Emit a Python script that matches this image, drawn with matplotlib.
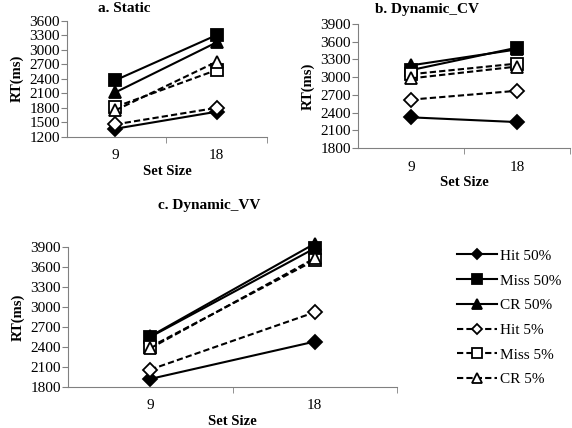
import matplotlib
matplotlib.use("Agg")
import matplotlib.pyplot as plt

plt.rcParams['font.family'] = ['Liberation Serif', 'DejaVu Serif']

set_sizes = ["9", "18"]
series_names = ["Hit 50%", "Miss 50%", "CR 50%", "Hit 5%", "Miss 5%", "CR 5%"]

# RT values (ms) for set size 9 and 18
static_rt = {
    "Hit 50%": [1370, 1720],
    "Miss 50%": [2370, 3300],
    "CR 50%": [2120, 3150],
    "Hit 5%": [1460, 1800],
    "Miss 5%": [1820, 2580],
    "CR 5%": [1750, 2750],
}
dyn_cv_rt = {
    "Hit 50%": [2320, 2240],
    "Miss 50%": [3120, 3500],
    "CR 50%": [3200, 3470],
    "Hit 5%": [2620, 2770],
    "Miss 5%": [3050, 3230],
    "CR 5%": [2980, 3180],
}
dyn_vv_rt = {
    "Hit 50%": [1920, 2480],
    "Miss 50%": [2550, 3880],
    "CR 50%": [2560, 3950],
    "Hit 5%": [2060, 2920],
    "Miss 5%": [2400, 3700],
    "CR 5%": [2380, 3730],
}

styles = {
    "Hit 50%": dict(ls='-', marker='D', mfc='black', ms=7),
    "Miss 50%": dict(ls='-', marker='s', mfc='black', ms=9),
    "CR 50%": dict(ls='-', marker='^', mfc='black', ms=9),
    "Hit 5%": dict(ls='--', marker='D', mfc='white', ms=7),
    "Miss 5%": dict(ls='--', marker='s', mfc='white', ms=9),
    "CR 5%": dict(ls='--', marker='^', mfc='white', ms=9),
}


def draw_panel(ax, data, ylim, yticks, xlim):
    x = [1, 2]
    for name in series_names:
        st = styles[name]
        ax.plot(x, data[name], color='black', lw=1.5, ls=st['ls'], marker=st['marker'],
                ms=st['ms'], mfc=st['mfc'], mec='black', mew=1.3, label=name,
                dashes=(3, 1.5) if st['ls'] == '--' else (None, None), clip_on=False)
    ax.set_ylim(*ylim)
    ax.set_yticks(yticks)
    ax.set_xlim(*xlim)
    ax.set_xticks(x)
    ax.set_xticklabels(set_sizes, fontsize=11)
    ax.set_xticks([1.5, 2.5], minor=True)
    ax.tick_params(axis='x', which='major', length=0, pad=9)
    ax.tick_params(axis='x', which='minor', length=4, color='#808080')
    ax.tick_params(axis='y', length=4, color='#808080', labelsize=11, pad=1)
    for s in ['top', 'right']:
        ax.spines[s].set_visible(False)
    for s in ['left', 'bottom']:
        ax.spines[s].set_color('#808080')
    ax.set_xlabel("Set Size", fontsize=10.5, fontweight='bold', labelpad=2)
    ax.set_ylabel("RT(ms)", fontsize=10.5, fontweight='bold', labelpad=4)


fig = plt.figure(figsize=(5.72, 4.28), dpi=100)
ax_a = fig.add_axes([0.117, 0.680, 0.350, 0.272])
ax_b = fig.add_axes([0.626, 0.654, 0.371, 0.290])
ax_c = fig.add_axes([0.119, 0.096, 0.575, 0.327])

draw_panel(ax_a, static_rt, (1200, 3600), range(1200, 3601, 300), (0.52, 2.39))
draw_panel(ax_b, dyn_cv_rt, (1800, 3900), range(1800, 3901, 300), (0.5, 2.5))
draw_panel(ax_c, dyn_vv_rt, (1800, 3900), range(1800, 3901, 300), (0.5, 2.5))

# panel titles sit centred over plot area plus y labels
fig.text(124 / 572, 1 - 8 / 428, "a. Static", ha='center', va='center', fontsize=11, fontweight='bold')
fig.text(427 / 572, 1 - 10 / 428, "b. Dynamic_CV", ha='center', va='center', fontsize=11, fontweight='bold')
fig.text(209 / 572, 1 - 205 / 428, "c. Dynamic_VV", ha='center', va='center', fontsize=11, fontweight='bold')

handles, labels = ax_c.get_legend_handles_labels()
fig.legend(handles, labels, loc='upper left', bbox_to_anchor=(0.775, 0.45), frameon=False,
           fontsize=11, handlelength=2.6, handletextpad=0.2, labelspacing=0.72, markerscale=0.75)

fig.savefig("out.png", dpi=100)
